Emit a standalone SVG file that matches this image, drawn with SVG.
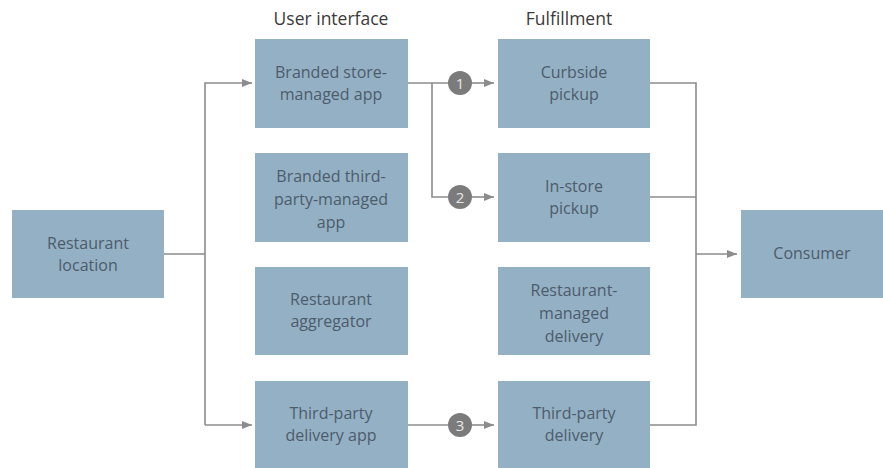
<svg xmlns="http://www.w3.org/2000/svg" width="883" height="468" viewBox="0 0 883 468">
<style>
.box{fill:#94b0c4}
.t{font-family:"Open Sans","Noto Sans",sans-serif;font-size:16px;fill:#4d5c6b;text-anchor:middle}
.h{font-family:"Open Sans","Noto Sans",sans-serif;font-size:17.5px;fill:#3a3a3a;text-anchor:middle}
.ln{fill:none;stroke:#8c8c8c;stroke-width:1.6}
.c{fill:#7b7b7b}
.n{font-family:"Open Sans","Noto Sans",sans-serif;font-size:15px;fill:#e8e8e8;text-anchor:middle}
</style>
<defs>
<marker id="ah" viewBox="0 0 10 10" refX="10" refY="5" markerWidth="10" markerHeight="10" markerUnits="userSpaceOnUse" orient="auto">
<path d="M0,1 L10,5 L0,9 Z" fill="#8c8c8c"/>
</marker>
</defs>
<rect width="883" height="468" fill="#ffffff"/>
<text class="h" x="331" y="25">User interface</text>
<text class="h" x="569" y="25">Fulfillment</text>
<g id="connectors">
<path class="ln" d="M164,254 H205"/>
<path class="ln" d="M205,425 V83 H252" marker-end="url(#ah)"/>
<path class="ln" d="M205,425 H252" marker-end="url(#ah)"/>
<path class="ln" d="M408,83 H448"/>
<path class="ln" d="M432,83 V197 H448"/>
<path class="ln" d="M472,83 H494" marker-end="url(#ah)"/>
<path class="ln" d="M472,197 H494" marker-end="url(#ah)"/>
<path class="ln" d="M408,425 H448"/>
<path class="ln" d="M472,425 H494" marker-end="url(#ah)"/>
<path class="ln" d="M650,83 H696 V425 H650"/>
<path class="ln" d="M650,197 H696"/>
<path class="ln" d="M696,254 H737" marker-end="url(#ah)"/>
</g>
<g id="badge1"><circle class="c" cx="460" cy="83" r="12"/><text class="n" x="460" y="88.5">1</text></g>
<g id="badge2"><circle class="c" cx="460" cy="197" r="12"/><text class="n" x="460" y="202.5">2</text></g>
<g id="badge3"><circle class="c" cx="460" cy="425" r="12"/><text class="n" x="460" y="430.5">3</text></g>
<g id="restaurant-location"><rect class="box" x="12" y="210" width="152" height="88"/><text class="t" x="88" y="249">Restaurant</text><text class="t" x="88" y="271">location</text></g>
<g id="branded-store-app"><rect class="box" x="255" y="39" width="153" height="89"/><text class="t" x="331" y="78">Branded store-</text><text class="t" x="331" y="100">managed app</text></g>
<g id="branded-third-party-app"><rect class="box" x="255" y="153" width="153" height="89"/><text class="t" x="331" y="182">Branded third-</text><text class="t" x="331" y="205">party-managed</text><text class="t" x="331" y="228">app</text></g>
<g id="restaurant-aggregator"><rect class="box" x="255" y="267" width="153" height="88"/><text class="t" x="331" y="305">Restaurant</text><text class="t" x="331" y="327">aggregator</text></g>
<g id="third-party-delivery-app"><rect class="box" x="255" y="381" width="153" height="87"/><text class="t" x="331" y="419">Third-party</text><text class="t" x="331" y="441">delivery app</text></g>
<g id="curbside-pickup"><rect class="box" x="498" y="39" width="152" height="89"/><text class="t" x="574" y="78">Curbside</text><text class="t" x="574" y="100">pickup</text></g>
<g id="in-store-pickup"><rect class="box" x="498" y="153" width="152" height="89"/><text class="t" x="574" y="192">In-store</text><text class="t" x="574" y="214">pickup</text></g>
<g id="restaurant-managed-delivery"><rect class="box" x="498" y="267" width="152" height="88"/><text class="t" x="574" y="296">Restaurant-</text><text class="t" x="574" y="319">managed</text><text class="t" x="574" y="342">delivery</text></g>
<g id="third-party-delivery"><rect class="box" x="498" y="381" width="152" height="87"/><text class="t" x="574" y="419">Third-party</text><text class="t" x="574" y="441">delivery</text></g>
<g id="consumer"><rect class="box" x="741" y="210" width="142" height="88"/><text class="t" x="812" y="259">Consumer</text></g>
</svg>
